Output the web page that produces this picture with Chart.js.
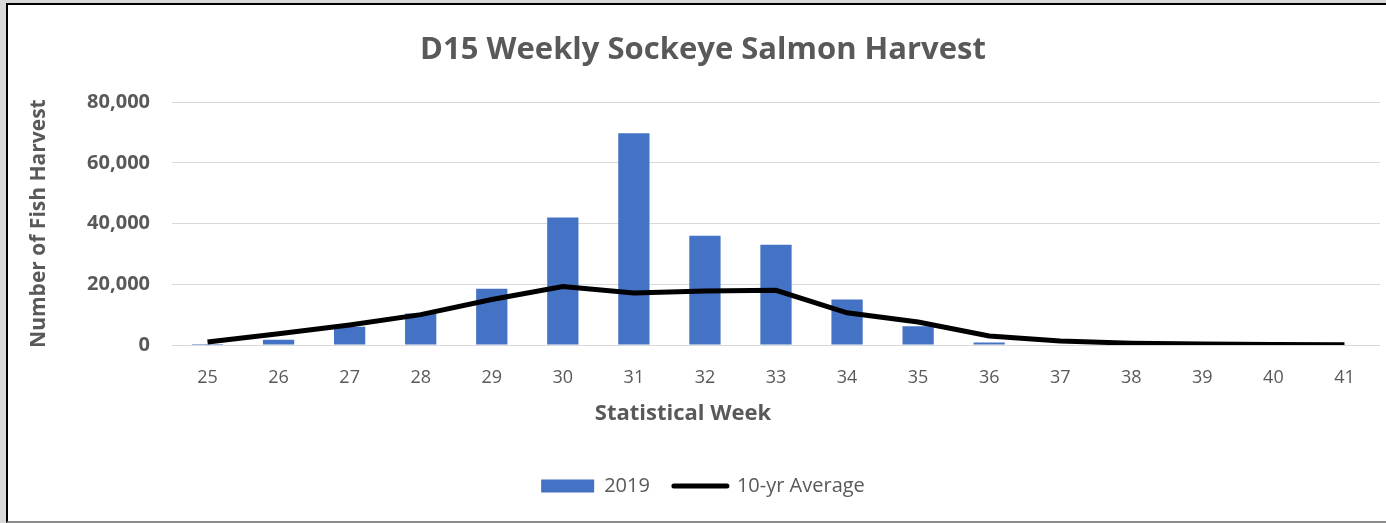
<!DOCTYPE html>
<html>
<head>
<meta charset="utf-8">
<script src="https://cdn.jsdelivr.net/npm/chart.js@4/dist/chart.umd.min.js"></script>
<style>
  html, body { margin: 0; padding: 0; background: #d9d9d9; width: 1386px; height: 523px; overflow: hidden; }
  .frame {
    position: absolute; left: 6px; top: 3px; width: 1380px; height: 516px;
    background: #fff; border-left: 2px solid #000; border-top: 2px solid #000; border-bottom: 2px solid #8c8c8c;
  }
  .frame canvas { display: block; }
</style>
</head>
<body>
<div class="frame"><canvas id="chart" width="1378" height="516"></canvas></div>
<script>
const weeks = ['25', '26', '27', '28', '29', '30', '31', '32', '33', '34', '35', '36', '37', '38', '39', '40', '41'];
const harvest2019 = [300, 1700, 6000, 10400, 18500, 42000, 69800, 36000, 33000, 15000, 6200, 800, 0, 0, 0, 0, 0];
const tenYearAvg = [1000, 3700, 6600, 10000, 15000, 19300, 17100, 17800, 18000, 10600, 7600, 3000, 1300, 600, 300, 200, 100];
const yTicks = [0, 20000, 40000, 60000, 80000];

const grey = '#595959';
const font = '"Open Sans", "Noto Sans", sans-serif';

// x axis title is centred on the whole chart in the original, not on the plot
const xTitle = {
  id: 'xTitle',
  afterDraw(chart) {
    const c = chart.ctx;
    c.save();
    c.fillStyle = grey;
    c.font = 'bold 22px ' + font;
    c.textAlign = 'center';
    c.textBaseline = 'middle';
    c.fillText('Statistical Week', chart.width / 2 - 14, chart.chartArea.bottom + 69);
    c.restore();
  },
};

const ctx = document.getElementById('chart').getContext('2d');
new Chart(ctx, {
  data: {
    labels: weeks,
    datasets: [
      {
        type: 'line',
        label: '10-yr Average',
        data: tenYearAvg,
        borderColor: '#000',
        backgroundColor: '#000',
        borderWidth: 5,
        pointRadius: 0,
        tension: 0,
        order: 0,
      },
      {
        type: 'bar',
        label: '2019',
        data: harvest2019,
        backgroundColor: '#4472c4',
        categoryPercentage: 1,
        barPercentage: 0.44,
        order: 1,
      },
    ],
  },
  plugins: [xTitle],
  options: {
    responsive: false,
    animation: false,
    layout: { padding: { left: 18, right: 6, top: 0, bottom: 15 } },
    plugins: {
      title: {
        display: true,
        text: 'D15 Weekly Sockeye Salmon Harvest',
        color: grey,
        font: { family: font, size: 31, weight: 'bold' },
        padding: { top: 27, bottom: 33 },
      },
      legend: {
        position: 'bottom',
        labels: {
          color: grey,
          font: { family: font, size: 20 },
          usePointStyle: true,
          pointStyleWidth: 53,
          boxHeight: 13,
          padding: 24,
          generateLabels: () => [
            { text: '2019', fillStyle: '#4472c4', strokeStyle: '#4472c4', lineWidth: 0, pointStyle: 'rect', datasetIndex: 1, fontColor: grey },
            { text: '10-yr Average', fillStyle: '#000', strokeStyle: '#000', lineWidth: 5, lineCap: 'round', pointStyle: 'line', datasetIndex: 0, fontColor: grey },
          ],
        },
      },
      tooltip: { enabled: false },
    },
    scales: {
      x: {
        grid: { display: false },
        border: { display: false },
        ticks: { color: grey, font: { family: font, size: 18 }, padding: 14 },
        afterFit: (scale) => { scale.height = 107; },
      },
      y: {
        min: 0,
        max: 80000,
        afterBuildTicks: (scale) => { scale.ticks = yTicks.map(v => ({ value: v })); },
        grid: { color: '#d9d9d9', lineWidth: 1, drawTicks: false },
        border: { display: false },
        ticks: {
          color: grey,
          font: { family: font, size: 20, weight: 'bold' },
          padding: 22,
          callback: (v) => v.toLocaleString('en-US'),
        },
        title: {
          display: true,
          text: 'Number of Fish Harvest',
          color: grey,
          font: { family: font, size: 21, weight: 'bold' },
          padding: { top: 0, bottom: 6 },
        },
        afterFit: (scale) => { scale.width = 146; },
      },
    },
  },
});
</script>
</body>
</html>
